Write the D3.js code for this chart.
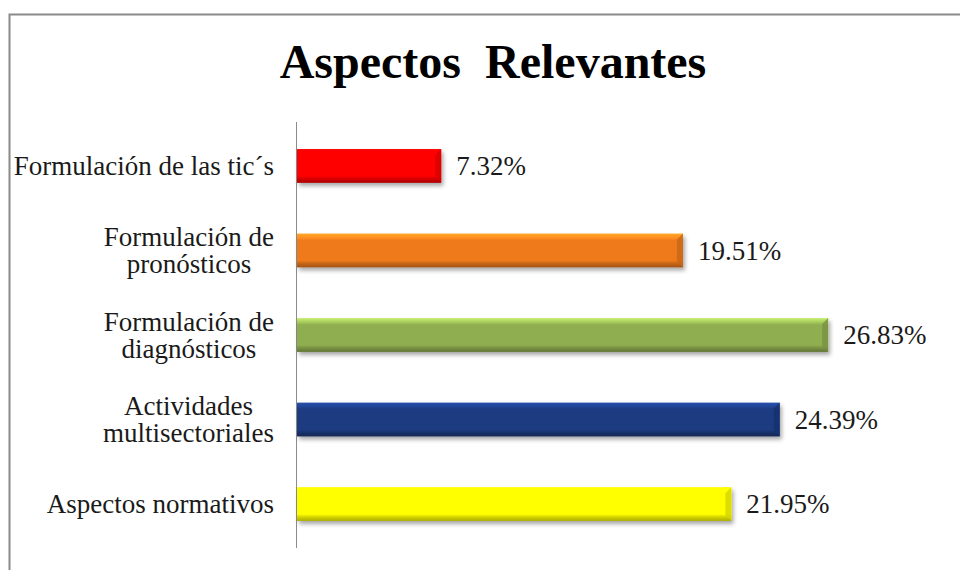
<!DOCTYPE html>
<html lang="es">
  <head>
    <meta charset="utf-8"/>
    <script src="https://d3js.org/d3.v7.min.js"></script>
    <title>Aspectos Relevantes</title>
    <style>
      body { margin: 0; background: #fff; }
      text { font-family: "Liberation Serif", "Times New Roman", serif; fill: #1a1a1a; }
    </style>
  </head>
  <body>
    <svg id="svg_main"></svg>
    <script>
      // data
      const categories = [
        ["Formulación de las tic´s"],
        ["Formulación de", "pronósticos"],
        ["Formulación de", "diagnósticos"],
        ["Actividades", "multisectoriales"],
        ["Aspectos normativos"]
      ];
      const values = [7.32, 19.51, 26.83, 24.39, 21.95];
      const barColors = ["#ff0000", "#ee7a1c", "#8fae4f", "#1c3a80", "#ffff00"];
      const titleText = "Aspectos\u00a0\u00a0Relevantes";

      const width = 960, height = 570;
      const axisX = 296;

      const svg = d3.select("#svg_main")
          .attr("width", width)
          .attr("height", height);

      // frame
      svg.append("rect")
          .attr("x", 9.5).attr("y", 14.5)
          .attr("width", 980).attr("height", 600)
          .attr("fill", "#fff")
          .attr("stroke", "#8a8a8a")
          .attr("stroke-width", 2);

      svg.append("text")
          .attr("x", 493).attr("y", 78)
          .attr("text-anchor", "middle")
          .style("font-size", "48px")
          .style("font-weight", "bold")
          .style("fill", "#000")
          .text(titleText);

      let xScale = d3.scaleLinear()
          .domain([0, 30])
          .range([axisX, axisX + 595]);

      let yScale = d3.scaleBand()
          .domain(d3.range(values.length))
          .range([122, 548])
          .paddingInner(0.6)
          .paddingOuter(0.32);

      // gradients + shadow
      const defs = svg.append("defs");
      barColors.forEach(function(c, i) {
        let g = defs.append("linearGradient")
            .attr("id", "grad" + i)
            .attr("x1", 0).attr("y1", 0).attr("x2", 0).attr("y2", 1);
        let base = d3.color(c);
        g.append("stop").attr("offset", "0%").attr("stop-color", base.brighter(0.9));
        g.append("stop").attr("offset", "14%").attr("stop-color", base.brighter(0.35));
        g.append("stop").attr("offset", "20%").attr("stop-color", c);
        g.append("stop").attr("offset", "80%").attr("stop-color", c);
        g.append("stop").attr("offset", "88%").attr("stop-color", base.darker(0.5));
        g.append("stop").attr("offset", "100%").attr("stop-color", base.darker(1.1));
      });
      let shadow = defs.append("filter").attr("id", "shadow")
          .attr("x", "-5%").attr("y", "-30%").attr("width", "115%").attr("height", "180%");
      shadow.append("feDropShadow")
          .attr("dx", 2).attr("dy", 3)
          .attr("stdDeviation", 2)
          .attr("flood-color", "#000")
          .attr("flood-opacity", 0.35);

      // axis line
      svg.append("line")
          .attr("x1", axisX + 0.5).attr("x2", axisX + 0.5)
          .attr("y1", yScale.range()[0]).attr("y2", yScale.range()[1])
          .attr("stroke", "#8c8c8c")
          .attr("stroke-width", 1);

      let bars = svg.append("g").selectAll("g")
          .data(values)
          .enter().append("g");

      bars.append("rect")
          .attr("x", xScale(0) + 1)
          .attr("y", function(d, i) { return yScale(i); })
          .attr("width", function(d) { return xScale(d) - xScale(0) - 1; })
          .attr("height", yScale.bandwidth())
          .attr("fill", function(d, i) { return "url(#grad" + i + ")"; })
          .attr("filter", "url(#shadow)");

      // bevel on the right end
      bars.append("path")
          .attr("d", function(d, i) {
            let x1 = xScale(d), y0 = yScale(i), h = yScale.bandwidth(), b = 6;
            return "M" + x1 + "," + y0 + "L" + (x1 - b) + "," + (y0 + b) +
                   "L" + (x1 - b) + "," + (y0 + h - b) + "L" + x1 + "," + (y0 + h) + "Z";
          })
          .attr("fill", function(d, i) { return d3.color(barColors[i]).darker(0.5); })
          .attr("opacity", 0.8);

      // value labels
      bars.append("text")
          .attr("x", function(d) { return xScale(d) + 15; })
          .attr("y", function(d, i) { return yScale(i) + yScale.bandwidth() / 2; })
          .attr("dy", "0.35em")
          .style("font-size", "27px")
          .text(function(d) { return d.toFixed(2) + "%"; });

      // category labels (centered lines, block right aligned)
      let lineH = 27;
      categories.forEach(function(lines, i) {
        let cy = yScale(i) + yScale.bandwidth() / 2;
        let t = svg.append("text")
            .style("font-size", "27px")
            .attr("text-anchor", "middle");
        let spans = lines.map(function(l, k) {
          return t.append("tspan")
              .attr("y", cy + (k - (lines.length - 1) / 2) * lineH)
              .attr("dy", "0.35em")
              .text(l);
        });
        let w = d3.max(spans, function(s) { return s.node().getComputedTextLength(); });
        spans.forEach(function(s) { s.attr("x", axisX - 22 - w / 2); });
      });
    </script>
  </body>
</html>
